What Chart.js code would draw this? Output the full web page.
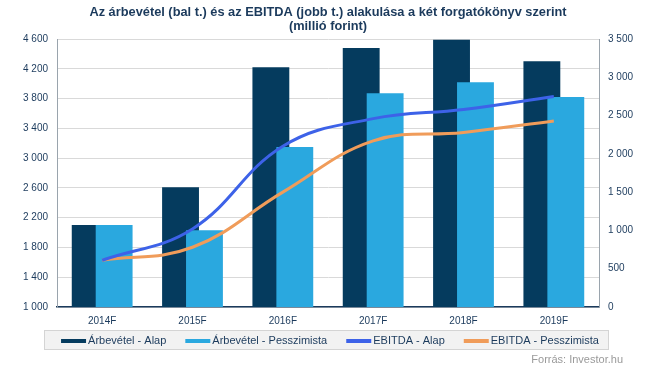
<!DOCTYPE html>
<html>
<head>
<meta charset="utf-8">
<script src="https://cdn.jsdelivr.net/npm/chart.js@4.4.1/dist/chart.umd.min.js"></script>
<style>
  body { margin: 0; background: #fff; }
  #wrap { width: 645px; height: 369px; }
</style>
</head>
<body>
<div id="wrap"><canvas id="chart" width="645" height="369"></canvas></div>
<script>
// data
const years = ['2014F', '2015F', '2016F', '2017F', '2018F', '2019F'];
const revenueBase = [2100, 2610, 4220, 4480, 4590, 4300];
const revenuePess = [2100, 2030, 3150, 3870, 4020, 3820];
const ebitdaBase = [610, 1020, 2100, 2460, 2580, 2750];
const ebitdaPess = [610, 780, 1500, 2170, 2280, 2430];
const seriesNames = ['Árbevétel - Alap', 'Árbevétel - Pesszimista', 'EBITDA - Alap', 'EBITDA - Pesszimista'];
const leftAxis = { min: 1000, max: 4600, step: 400 };
const rightAxis = { min: 0, max: 3500, step: 500 };
const titleLines = ['Az árbevétel (bal t.) és az EBITDA (jobb t.) alakulása a két forgatókönyv szerint', '(millió forint)'];
const sourceText = 'Forrás: Investor.hu';

const navy = '#1b3a5c';
const font = '"Liberation Sans", Arial, sans-serif';

function spaced(v) {
    return String(v).replace(/\B(?=(\d{3})+(?!\d))/g, ' ');
}

// light bar has to sit on top of the dark one where they overlap
const barOrder = {
    id: 'barOrder',
    beforeDatasetDraw(chart, args) {
        if (args.index === 1) return false;
    },
    afterDatasetDraw(chart, args) {
        if (args.index === 0) {
            const a = chart.chartArea;
            chart.ctx.save();
            chart.ctx.beginPath();
            chart.ctx.rect(a.left, a.top, a.right - a.left, a.bottom - a.top);
            chart.ctx.clip();
            chart.getDatasetMeta(1).controller.draw();
            chart.ctx.restore();
        }
    }
};

const titleAndLegend = {
    id: 'titleAndLegend',
    afterDraw(chart) {
        const ctx = chart.ctx;
        const area = chart.chartArea;
        const cx = (area.left + area.right) / 2;
        ctx.save();
        // title
        ctx.fillStyle = navy;
        ctx.font = 'bold 12.8px ' + font;
        ctx.textAlign = 'center';
        ctx.textBaseline = 'middle';
        titleLines.forEach((t, i) => ctx.fillText(t, cx, 12 + i * 14));

        // legend box
        ctx.font = '11px ' + font;
        ctx.textAlign = 'left';
        const markW = 25, markGap = 2, itemGap = 19;
        const ds = chart.data.datasets;
        let total = 0;
        ds.forEach((d, i) => {
            total += markW + markGap + ctx.measureText(d.label).width;
            if (i < ds.length - 1) total += itemGap;
        });
        const boxL = 44, boxR = 609, boxT = 330, boxB = 350;
        ctx.fillStyle = '#f2f2f2';
        ctx.fillRect(boxL, boxT, boxR - boxL, boxB - boxT);
        ctx.strokeStyle = '#d4d4d4';
        ctx.lineWidth = 1;
        ctx.strokeRect(boxL + 0.5, boxT + 0.5, boxR - boxL - 1, boxB - boxT - 1);
        let x = 330 - total / 2;
        const y = 341;
        ds.forEach(d => {
            ctx.strokeStyle = d.type === 'line' ? d.borderColor : d.backgroundColor;
            ctx.lineWidth = 4;
            ctx.beginPath();
            ctx.moveTo(x, y);
            ctx.lineTo(x + markW, y);
            ctx.stroke();
            x += markW + markGap;
            ctx.fillStyle = navy;
            ctx.fillText(d.label, x, y);
            x += ctx.measureText(d.label).width + itemGap;
        });

        // source
        ctx.fillStyle = '#9a9a9a';
        ctx.font = '11px ' + font;
        ctx.textAlign = 'right';
        ctx.fillText(sourceText, 623, 360);
        ctx.restore();
    }
};

const ctx = document.getElementById('chart').getContext('2d');
const chart = new Chart(ctx, {
    type: 'bar',
    data: {
        labels: years,
        datasets: [
            {
                label: seriesNames[0],
                data: revenueBase,
                backgroundColor: '#053b5e',
                yAxisID: 'y',
                order: 1
            },
            {
                label: seriesNames[1],
                data: revenuePess,
                backgroundColor: '#2aa8df',
                yAxisID: 'y',
                order: 1
            },
            {
                type: 'line',
                label: seriesNames[2],
                data: ebitdaBase,
                borderColor: '#3d62e8',
                borderWidth: 3,
                pointRadius: 0,
                tension: 0.4,
                yAxisID: 'y1',
                order: 0
            },
            {
                type: 'line',
                label: seriesNames[3],
                data: ebitdaPess,
                borderColor: '#f09c5a',
                borderWidth: 3,
                pointRadius: 0,
                tension: 0.4,
                yAxisID: 'y1',
                order: 0
            }
        ]
    },
    options: {
        responsive: false,
        animation: false,
        categoryPercentage: 0.53,
        barPercentage: 1.54,
        layout: { padding: { top: 39, left: 0, right: 0, bottom: 0 } },
        plugins: {
            legend: { display: false },
            title: { display: false },
            tooltip: { enabled: false }
        },
        scales: {
            x: {
                grid: { display: false, drawTicks: false },
                border: { display: true, color: navy, width: 1.5 },
                ticks: { color: navy, font: { family: font, size: 10 }, padding: 8 },
                afterFit: s => { s.height = 62; }
            },
            y: {
                position: 'left',
                min: leftAxis.min,
                max: leftAxis.max,
                grid: { color: '#d9d9d9', drawTicks: false },
                border: { color: '#9aa4ad' },
                ticks: {
                    stepSize: leftAxis.step,
                    color: navy,
                    font: { family: font, size: 10 },
                    padding: 9,
                    callback: v => spaced(v)
                },
                afterFit: s => { s.width = 57; }
            },
            y1: {
                position: 'right',
                min: rightAxis.min,
                max: rightAxis.max,
                grid: { drawOnChartArea: false, drawTicks: false },
                border: { color: '#9aa4ad' },
                ticks: {
                    stepSize: rightAxis.step,
                    color: navy,
                    font: { family: font, size: 10 },
                    padding: 9,
                    callback: v => spaced(v)
                },
                afterFit: s => { s.width = 46; }
            }
        }
    },
    plugins: [barOrder, titleAndLegend]
});
</script>
</body>
</html>
